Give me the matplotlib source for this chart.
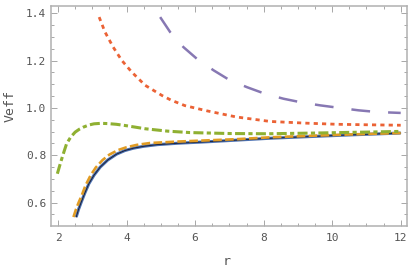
import numpy as np
import matplotlib.pyplot as plt
from matplotlib.ticker import MultipleLocator

plt.rcParams['lines.scale_dashes'] = False
plt.rcParams['font.family'] = ['DejaVu Sans Mono']

# curves
r_blue = [2.53, 2.6, 2.68, 2.78, 2.9, 3.05, 3.23, 3.45, 3.71, 3.95, 4.2, 4.5, 4.9, 5.5, 6.34, 7.2, 8.19, 9.5, 10.5, 12.0]
v_blue = [0.539, 0.572, 0.603, 0.640, 0.680, 0.716, 0.750, 0.780, 0.805, 0.820, 0.830, 0.838, 0.845, 0.851, 0.857, 0.864, 0.872, 0.880, 0.886, 0.894]

r_orange = [2.45, 2.52, 2.6, 2.69, 2.8, 2.95, 3.1, 3.3, 3.5, 3.75, 4.0, 4.3, 4.69, 5.5, 6.34, 7.2, 8.19, 9.5, 10.5, 12.0]
v_orange = [0.539, 0.570, 0.600, 0.630, 0.672, 0.715, 0.748, 0.780, 0.803, 0.822, 0.834, 0.844, 0.852, 0.858, 0.863, 0.868, 0.876, 0.883, 0.888, 0.894]

r_green = [1.98, 2.05, 2.11, 2.18, 2.25, 2.37, 2.5, 2.62, 2.74, 2.9, 3.05, 3.25, 3.45, 3.7, 3.95, 4.25, 4.55,
           5.2, 5.85, 7.0, 8.1, 9.5, 11.0, 12.0]
v_green = [0.722, 0.757, 0.786, 0.818, 0.849, 0.877, 0.898, 0.910, 0.919, 0.928, 0.933, 0.935, 0.934, 0.931, 0.926, 0.919, 0.912,
           0.902, 0.896, 0.892, 0.891, 0.894, 0.898, 0.901]

r_red = [3.2, 3.37, 3.61, 3.86, 4.15, 4.54, 5.03, 5.3, 5.7, 6.34, 7.2, 8.19, 9.2, 10.14, 11.0, 12.0]
v_red = [1.384, 1.321, 1.257, 1.201, 1.152, 1.096, 1.053, 1.033, 1.010, 0.988, 0.962, 0.943, 0.936, 0.931, 0.929, 0.927]

r_purple = [4.98, 5.27, 5.66, 6.05, 6.54, 6.97, 7.51, 8.04, 8.58, 9.12, 9.65, 10.23, 10.77, 11.3, 12.0]
v_purple = [1.384, 1.321, 1.257, 1.208, 1.159, 1.121, 1.088, 1.060, 1.039, 1.023, 1.011, 1.000, 0.990, 0.983, 0.979]

fig = plt.figure(figsize=(4.15, 2.73), dpi=100)
ax = fig.add_axes([0.123, 0.172, 0.857, 0.807])

ax.plot(r_blue, v_blue, color='#4a70b2', lw=2.2, solid_capstyle='butt')
ax.plot(r_blue, v_blue, color='#1a1a2a', lw=0.6)
ax.plot(r_orange, v_orange, color='#E19C24', lw=1.9, dashes=(6.2, 2.4), dash_capstyle='butt')
ax.plot(r_green, v_green, color='#8FB032', lw=2.2, dashes=(7.2, 2.4, 3.0, 2.4), dash_capstyle='butt')
ax.plot(r_red, v_red, color='#EB6235', lw=2.0, dashes=(3.0, 3.0), dash_capstyle='butt')
ax.plot(r_purple, v_purple, color='#8778B3', lw=1.8, dashes=(13.5, 13), dash_capstyle='butt')

ax.set_xlim(1.796, 12.175)
ax.set_ylim(0.501, 1.432)
ax.xaxis.set_major_locator(MultipleLocator(2))
ax.xaxis.set_minor_locator(MultipleLocator(0.5))
ax.yaxis.set_major_locator(MultipleLocator(0.2))
ax.yaxis.set_minor_locator(MultipleLocator(0.05))
ax.yaxis.set_major_formatter(plt.FuncFormatter(lambda v, p: '%.1f' % v))

for s in ax.spines.values():
    s.set_color('#b0b0b0')
    s.set_linewidth(1.1)
ax.tick_params(which='both', direction='in', top=True, right=True, color='#999999',
               labelcolor='#555555', labelsize=8, width=0.6)
ax.tick_params(axis='x', which='major', pad=5)
ax.tick_params(which='major', length=4)
ax.tick_params(which='minor', length=2.2)

ax.set_xlabel('r', color='#555555', fontsize=9.5)
ax.set_ylabel('Veff', color='#555555', fontsize=9.5)
ax.xaxis.set_label_coords(0.493, -0.13)
ax.yaxis.set_label_coords(-0.098, 0.545)

fig.savefig('out.png', dpi=100)
